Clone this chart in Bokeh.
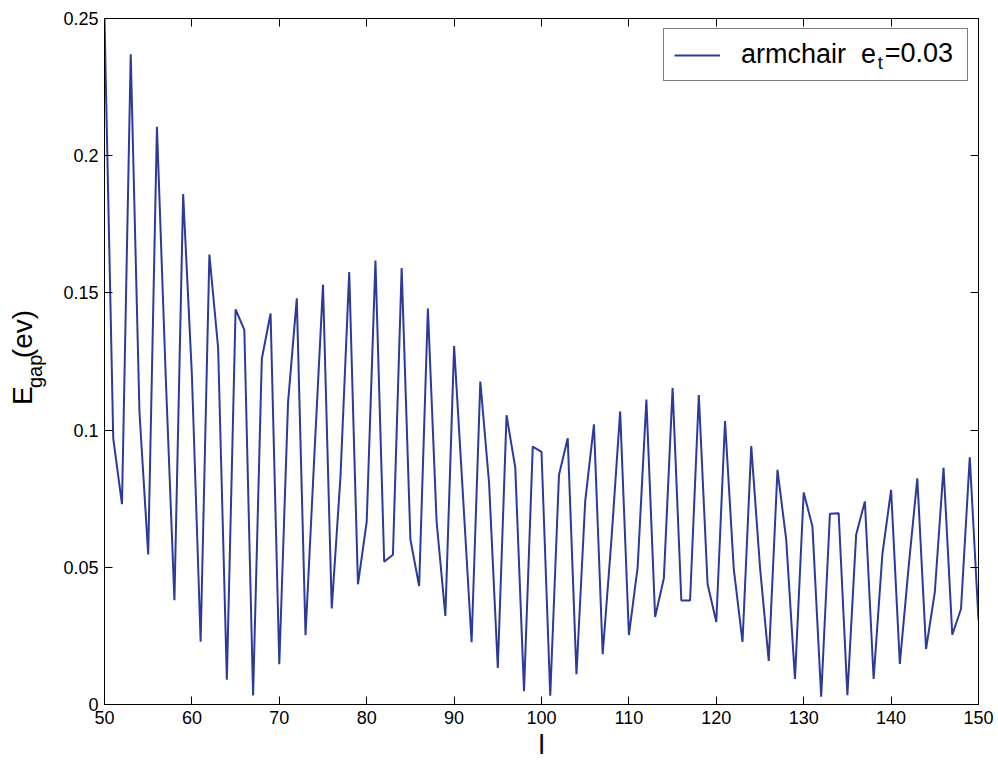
import math
from bokeh.plotting import figure
from bokeh.layouts import row
from bokeh.models import (Legend, LegendItem, Label, LinearAxis, FixedTicker,
                          CustomJSTickFormatter, Range1d)
from bokeh.core.properties import value
from bokeh.embed import file_html
from bokeh.resources import INLINE

# ---------------- data ----------------
ribbon_width = list(range(50, 151))
egap = [
    0.250, 0.097, 0.073, 0.237, 0.1065, 0.0547, 0.2105, 0.120, 0.038, 0.186,   # 50-59
    0.120, 0.0229, 0.164, 0.130, 0.009, 0.144, 0.1365, 0.0033, 0.126, 0.1425,  # 60-69
    0.0147, 0.110, 0.148, 0.0253, 0.090, 0.153, 0.035, 0.083, 0.1576, 0.0438,  # 70-79
    0.0666, 0.1618, 0.052, 0.0546, 0.1591, 0.0602, 0.0432, 0.1443, 0.0666, 0.0323,  # 80-89
    0.1306, 0.077, 0.0227, 0.1177, 0.0808, 0.0133, 0.1054, 0.0863, 0.0048, 0.094,  # 90-99
    0.0921, 0.0032, 0.0836, 0.097, 0.011, 0.074, 0.1021, 0.0183, 0.060, 0.1068,  # 100-109
    0.0253, 0.050, 0.1111, 0.0319, 0.046, 0.1153, 0.0379, 0.0379, 0.1128, 0.0439,  # 110-119
    0.0301, 0.1033, 0.0493, 0.0228, 0.0942, 0.050, 0.0159, 0.0855, 0.0601, 0.0093,  # 120-129
    0.0773, 0.0649, 0.0028, 0.0695, 0.0697, 0.0034, 0.0619, 0.074, 0.0093, 0.0547,  # 130-139
    0.0782, 0.0148, 0.050, 0.0824, 0.0202, 0.0409, 0.0863, 0.0254, 0.0349, 0.0901,  # 140-149
    0.0307,  # 150
]
x_ticks = [50, 60, 70, 80, 90, 100, 110, 120, 130, 140, 150]
y_ticks = [0, 0.05, 0.1, 0.15, 0.2, 0.25]
x_label = "l"
y_label_main = "E"
y_label_sub = "gap"
y_label_rest = "(ev)"
legend_label = "armchair  e"
legend_sub = "t"
legend_rest = "=0.03"

# ---------------- layout ----------------
W, H = 998, 762
LW = 60                      # width of the strip holding the y label
BL, BR, BT, BB = 102, 20, 18, 51
FW, FH = W - BL - BR, H - BT - BB
X0, X1, Y0, Y1 = 50, 150, 0, 0.25

def sx(px):
    return X0 + (px - BL) / FW * (X1 - X0)

def sy(py):
    return Y0 + (H - BB - py) / FH * (Y1 - Y0)

FONT = "Liberation Sans"
LINE_COLOR = "#2c3a9b"

# ---- y-label strip (centred, rotated pieces) ----
lab = figure(width=LW, height=H, output_backend="svg", toolbar_location=None,
             x_range=Range1d(0, LW), y_range=Range1d(0, H),
             min_border_left=0, min_border_right=0, min_border_top=0,
             min_border_bottom=0, x_axis_type=None, y_axis_type=None)
lab.xgrid.visible = False
lab.ygrid.visible = False
lab.outline_line_color = None
lab.background_fill_color = "white"
lab.border_fill_color = "white"
ang = math.pi / 2
lab.text(x=[22], y=[H - 419], text=[y_label_main], angle=ang, text_font=value(FONT),
         text_font_size="28px", text_baseline="middle", text_align="center",
         text_color="black")
lab.text(x=[34], y=[H - 392], text=[y_label_sub], angle=ang, text_font=value(FONT),
         text_font_size="20px", text_baseline="middle", text_align="center",
         text_color="black")
lab.text(x=[22], y=[H - 350.5], text=[y_label_rest], angle=ang, text_font=value(FONT),
         text_font_size="28px", text_baseline="middle", text_align="center",
         text_color="black")

# ---- main plot ----
p = figure(width=W - LW, height=H, output_backend="svg", toolbar_location=None,
           x_range=Range1d(X0, X1), y_range=Range1d(Y0, Y1),
           min_border_left=BL - LW, min_border_right=BR, min_border_top=BT,
           min_border_bottom=BB, x_axis_type=None, y_axis_type=None)
p.xgrid.visible = False
p.ygrid.visible = False
p.outline_line_color = "black"
p.outline_line_width = 1
p.background_fill_color = "white"
p.border_fill_color = "white"

r = p.line(ribbon_width, egap, line_color=LINE_COLOR, line_width=2)

fmt = CustomJSTickFormatter(code="return String(+tick.toFixed(4));")
blank = CustomJSTickFormatter(code="return '';")

def style(ax, labels=True):
    ax.axis_line_color = "black"
    ax.axis_line_width = 1
    ax.major_tick_in = 8
    ax.major_tick_out = 0
    ax.major_tick_line_color = "black"
    ax.minor_tick_line_color = None
    if labels:
        ax.major_label_text_font = FONT
        ax.major_label_text_font_size = "18px"
        ax.major_label_text_color = "black"
        ax.major_label_standoff = 6
    else:
        ax.major_label_standoff = 0

xb = LinearAxis(ticker=FixedTicker(ticks=x_ticks), formatter=fmt)
style(xb)
xb.axis_label = x_label
xb.axis_label_text_font = FONT
xb.axis_label_text_font_size = "28px"
xb.axis_label_text_font_style = "normal"
xb.axis_label_text_color = "black"
xb.axis_label_standoff = 2
p.add_layout(xb, "below")

yl = LinearAxis(ticker=FixedTicker(ticks=y_ticks), formatter=fmt)
style(yl)
p.add_layout(yl, "left")

xt = LinearAxis(ticker=FixedTicker(ticks=x_ticks), formatter=blank)
style(xt, labels=False)
p.add_layout(xt, "above")

yr = LinearAxis(ticker=FixedTicker(ticks=y_ticks), formatter=blank)
style(yr, labels=False)
p.add_layout(yr, "right")

# legend
leg = Legend(items=[LegendItem(label=legend_label, renderers=[r])],
             location="top_right", margin=10, padding=10,
             glyph_width=46, glyph_height=20, label_standoff=21, label_width=216,
             label_text_font=FONT, label_text_font_size="27px",
             label_text_color="black",
             border_line_color="black", border_line_width=1.2,
             background_fill_color="white", background_fill_alpha=0)
p.add_layout(leg)

p.add_layout(Label(x=sx(877), y=sy(63), text=legend_sub, text_font=FONT,
                   text_font_size="18px", text_baseline="middle", text_align="left",
                   text_color="black", level="overlay"))
p.add_layout(Label(x=sx(884), y=sy(53), text=legend_rest, text_font=FONT,
                   text_font_size="27px", text_baseline="middle", text_align="left",
                   text_color="black", level="overlay"))

layout = row(lab, p, spacing=0)
open("out.html", "w").write(file_html(layout, INLINE))
